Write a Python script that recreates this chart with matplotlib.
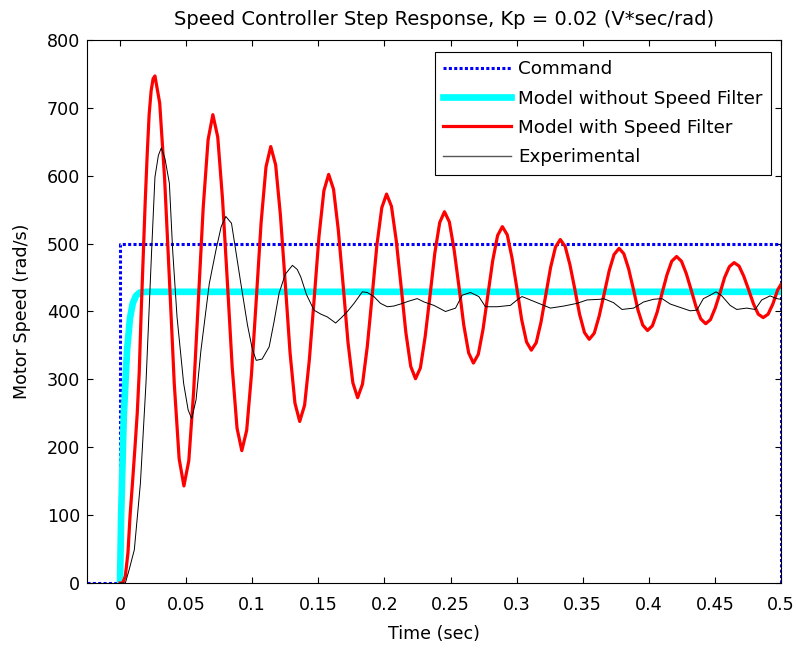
"""Speed controller step response (MATLAB-style figure) -> out.png."""

import matplotlib
matplotlib.use("Agg")
import matplotlib.pyplot as plt  # noqa: E402
from matplotlib.lines import Line2D  # noqa: E402

plt.rcParams["font.family"] = ["DejaVu Sans"]

# --- data ------------------------------------------------------------------
cmd_t = [-0.025, 0.0, 0.0, 0.5, 0.5]
cmd_v = [0, 0, 500, 500, 0]

nofilt_t = [0.0, 0.0008, 0.0028, 0.0053, 0.0075, 0.0096, 0.012, 0.015, 0.02, 0.5]
nofilt_v = [0, 98, 245, 343, 390, 412, 423, 428, 429, 429]

filt_t = [0.0, 0.002, 0.004, 0.006, 0.0076, 0.0095, 0.0113, 0.013, 0.0145, 0.016,
          0.0175, 0.019, 0.0205, 0.022, 0.0235, 0.025, 0.0264,
          0.0300, 0.0337, 0.0374, 0.0410, 0.0447, 0.0483,
          0.0520, 0.0556, 0.0593, 0.0629, 0.0666, 0.0702,
          0.0739, 0.0775, 0.0812, 0.0848, 0.0885, 0.0921,
          0.0958, 0.0994, 0.1031, 0.1067, 0.1104, 0.1140,
          0.1177, 0.1213, 0.1250, 0.1286, 0.1323, 0.1359,
          0.1396, 0.1432, 0.1469, 0.1505, 0.1542, 0.1578,
          0.1615, 0.1651, 0.1688, 0.1724, 0.1761, 0.1797,
          0.1834, 0.1870, 0.1907, 0.1943, 0.1980, 0.2016,
          0.2053, 0.2089, 0.2126, 0.2162, 0.2199, 0.2235,
          0.2272, 0.2308, 0.2345, 0.2381, 0.2418, 0.2454,
          0.2491, 0.2527, 0.2564, 0.2600, 0.2637, 0.2673,
          0.2710, 0.2746, 0.2783, 0.2819, 0.2856, 0.2892,
          0.2929, 0.2965, 0.3002, 0.3038, 0.3075, 0.3111,
          0.3148, 0.3184, 0.3221, 0.3257, 0.3294, 0.3330,
          0.3367, 0.3403, 0.3440, 0.3476, 0.3513, 0.3549,
          0.3587, 0.3624, 0.3662, 0.3700, 0.3737, 0.3775,
          0.3811, 0.3847, 0.3883, 0.3918, 0.3954, 0.3990,
          0.4027, 0.4063, 0.4100, 0.4137, 0.4173, 0.4210,
          0.4247, 0.4283, 0.4320, 0.4357, 0.4393, 0.4430,
          0.4466, 0.4502, 0.4538, 0.4573, 0.4609, 0.4645,
          0.4682, 0.4718, 0.4755, 0.4792, 0.4828, 0.4865,
          0.4902, 0.4938, 0.4975, 0.5]
filt_v = [0, 0, 10, 45, 100, 150, 200, 250, 310, 400,
          480, 560, 630, 690, 725, 743, 747,
          707, 596, 445, 294, 183, 143,
          180, 280, 417, 553, 653, 690,
          657, 566, 443, 319, 228, 195,
          225, 307, 419, 531, 613, 643,
          616, 542, 441, 339, 265, 238,
          262, 329, 420, 511, 578, 602,
          580, 520, 438, 355, 295, 273,
          293, 348, 423, 498, 553, 573,
          555, 505, 437, 369, 319, 301,
          317, 363, 424, 486, 531, 547,
          532, 491, 436, 380, 339, 324,
          337, 374, 425, 475, 512, 525,
          513, 479, 434, 388, 355, 343,
          354, 384, 425, 465, 495, 506,
          496, 469, 433, 396, 369, 359,
          368, 393, 426, 460, 484, 493,
          485, 463, 433, 402, 380, 372,
          379, 399, 427, 454, 474, 481,
          474, 456, 432, 407, 389, 382,
          388, 405, 427, 450, 466, 472,
          467, 452, 432, 411, 396, 391,
          396, 411, 432, 440]

exp_t = [0.0, 0.004, 0.0068, 0.0108, 0.0154, 0.0196, 0.0239, 0.0264, 0.029, 0.0312,
         0.034, 0.0373, 0.0398, 0.0431, 0.0481, 0.0515, 0.0542, 0.0575, 0.0612, 0.0675,
         0.0725, 0.0765, 0.0800, 0.0843, 0.0914, 0.0964, 0.1000, 0.1030, 0.1075, 0.1128,
         0.1165, 0.1203, 0.1250, 0.1304, 0.1340, 0.1367, 0.1410, 0.1467, 0.1520, 0.1568,
         0.1631, 0.1680, 0.1720, 0.1770, 0.1833, 0.1870, 0.1920, 0.1970, 0.2022, 0.2070,
         0.2122, 0.2180, 0.2248, 0.2300, 0.2374, 0.2462, 0.2538, 0.2588, 0.2651, 0.2714,
         0.2764, 0.2853, 0.2953, 0.3003, 0.3041, 0.3104, 0.3205, 0.3255, 0.3356, 0.3457,
         0.3532, 0.3633, 0.3658, 0.3733, 0.3797, 0.3885, 0.3960, 0.4036, 0.4099, 0.4162,
         0.4237, 0.4313, 0.4363, 0.4413, 0.4464, 0.4509, 0.4552, 0.4615, 0.4665, 0.4740,
         0.4804, 0.4854, 0.4917, 0.4967, 0.5]
exp_v = [0, 0, 19, 49, 147, 294, 490, 598, 630, 641,
         625, 589, 490, 392, 294, 255, 242, 270, 343, 441,
         490, 525, 540, 530, 441, 380, 345, 328, 330, 348,
         385, 427, 455, 468, 462, 451, 425, 402, 396, 392,
         383, 392, 400, 412, 429, 428, 422, 412, 407, 408,
         411, 415, 419, 414, 409, 400, 405, 424, 428, 422,
         407, 407, 409, 417, 422, 417, 409, 405, 408, 412,
         417, 418, 419, 413, 403, 405, 414, 418, 419, 411,
         406, 401, 402, 419, 424, 429, 423, 409, 403, 405,
         403, 417, 423, 419, 418]

x_ticks = [0, 0.05, 0.1, 0.15, 0.2, 0.25, 0.3, 0.35, 0.4, 0.45, 0.5]
x_labels = ["0", "0.05", "0.1", "0.15", "0.2", "0.25", "0.3", "0.35", "0.4", "0.45", "0.5"]
y_ticks = [0, 100, 200, 300, 400, 500, 600, 700, 800]

FS = 12.6

# --- figure -----------------------------------------------------------------
fig = plt.figure(figsize=(7.96, 6.48), dpi=100)
ax = fig.add_axes([0.1093, 0.1003, 0.8719, 0.838])

ax.plot(cmd_t, cmd_v, color="#0000ff", lw=2.2, dashes=(1, 0.75), label="Command")
ax.plot(nofilt_t, nofilt_v, color="#00ffff", lw=4.8, solid_joinstyle="round",
        label="Model without Speed Filter")
ax.plot(filt_t, filt_v, color="#ff0000", lw=2.3, solid_joinstyle="round",
        label="Model with Speed Filter")
ax.plot(exp_t, exp_v, color="black", lw=0.7, label="Experimental")

ax.set_xlim(-0.025, 0.5)
ax.set_ylim(0, 800)
ax.set_xticks(x_ticks)
ax.set_xticklabels(x_labels)
ax.set_yticks(y_ticks)
ax.tick_params(direction="in", top=True, right=True, length=4, width=0.8,
               labelsize=FS, colors="black")
ax.tick_params(axis="x", pad=9)
ax.tick_params(axis="y", pad=5)
for sp in ax.spines.values():
    sp.set_linewidth(0.8)

ax.set_xlabel("Time (sec)", fontsize=FS, labelpad=8)
ax.set_ylabel("Motor Speed (rad/s)", fontsize=FS, labelpad=11)
ax.set_title("Speed Controller Step Response, Kp = 0.02 (V*sec/rad)", fontsize=14,
             x=0.514, pad=11)

handles = [
    Line2D([], [], color="#0000ff", lw=2.2, dashes=(1, 0.75)),
    Line2D([], [], color="#00ffff", lw=4.8, marker=".", markersize=6, markevery=[1]),
    Line2D([], [], color="#ff0000", lw=2.3),
    Line2D([], [], color="#555555", lw=1.0),
]
labels = ["Command", "Model without Speed Filter", "Model with Speed Filter", "Experimental"]
leg = ax.legend(handles, labels, loc="upper right", bbox_to_anchor=(0.9856, 0.978),
                fontsize=13.2, frameon=True, fancybox=False, framealpha=1,
                edgecolor="black", handlelength=3.7, handletextpad=0.4,
                labelspacing=0.62, borderpad=0.45, borderaxespad=0)
leg.get_frame().set_linewidth(0.8)

fig.savefig("out.png", dpi=100)
